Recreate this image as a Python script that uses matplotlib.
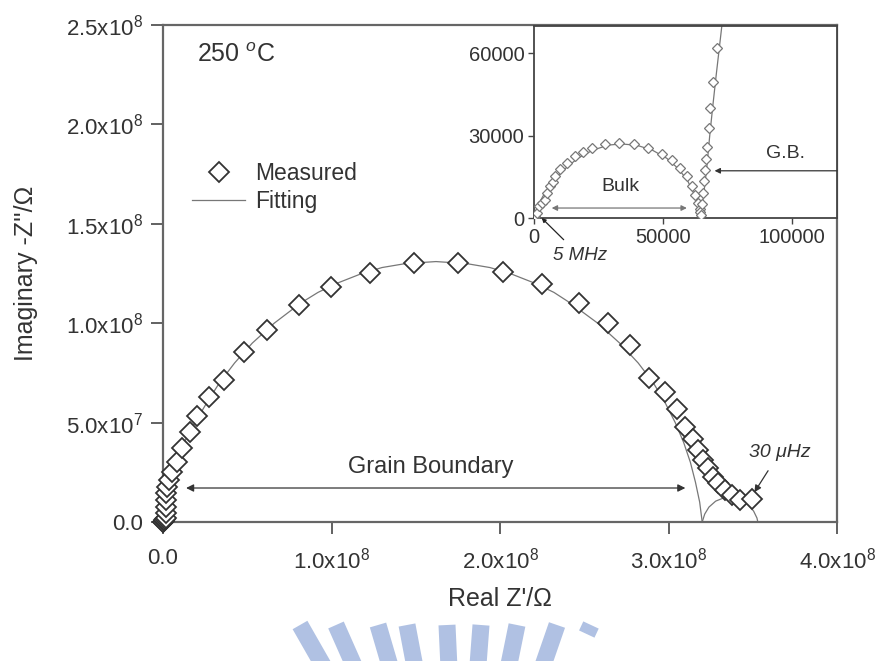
import numpy as np
import matplotlib
matplotlib.use("Agg")
import matplotlib.pyplot as plt
from matplotlib.patches import Polygon

plt.rcParams['font.family'] = ['Liberation Sans', 'DejaVu Sans']
plt.rcParams['mathtext.fontset'] = 'custom'
plt.rcParams['mathtext.rm'] = 'Liberation Sans'
plt.rcParams['mathtext.it'] = 'Liberation Sans:italic'

# ---- main plot data, units of 1e8 ohm ----
meas_re = [0.000, 0.001, 0.003, 0.006, 0.010, 0.016, 0.016, 0.016, 0.016, 0.020,
           0.026, 0.036, 0.052, 0.085, 0.115, 0.159, 0.204, 0.273, 0.363, 0.481,
           0.618, 0.808, 0.997, 1.229, 1.492, 1.749, 2.017, 2.251, 2.468, 2.640,
           2.770, 2.885, 2.978, 3.051, 3.097, 3.146, 3.176, 3.205, 3.235, 3.265,
           3.294, 3.334, 3.374, 3.424, 3.493]
meas_im = [0.000, 0.002, 0.004, 0.008, 0.013, 0.020, 0.045, 0.077, 0.111, 0.144,
           0.178, 0.211, 0.253, 0.302, 0.371, 0.454, 0.533, 0.630, 0.714, 0.855,
           0.966, 1.092, 1.181, 1.254, 1.304, 1.304, 1.259, 1.197, 1.103, 1.000,
           0.890, 0.725, 0.655, 0.567, 0.479, 0.416, 0.362, 0.312, 0.270, 0.228,
           0.195, 0.161, 0.136, 0.111, 0.114]

fit_re = [0.000, 0.005, 0.012, 0.030, 0.070, 0.125, 0.190, 0.260, 0.335, 0.425,
          0.530, 0.660, 0.815, 0.920, 1.030, 1.180, 1.300, 1.440, 1.620, 1.800,
          1.940, 2.060, 2.210, 2.320, 2.420, 2.580, 2.710, 2.820, 2.910, 2.980,
          3.040, 3.090, 3.130, 3.160, 3.185, 3.200]
fit_im = [0.000, 0.050, 0.100, 0.200, 0.300, 0.400, 0.500, 0.600, 0.700, 0.800,
          0.900, 1.000, 1.100, 1.155, 1.200, 1.250, 1.280, 1.300, 1.310, 1.300,
          1.280, 1.250, 1.200, 1.155, 1.100, 1.000, 0.900, 0.800, 0.700, 0.600,
          0.500, 0.400, 0.300, 0.200, 0.100, 0.000]

# electrode arc of the fit
fit2_re = [3.200, 3.215, 3.240, 3.280, 3.330, 3.380, 3.430, 3.470, 3.505, 3.525, 3.530]
fit2_im = [0.000, 0.040, 0.075, 0.105, 0.122, 0.126, 0.115, 0.090, 0.055, 0.020, 0.000]

main_xticks = [0, 1, 2, 3, 4]
main_xlabels = ['0.0', '1.0x10$^8$', '2.0x10$^8$', '3.0x10$^8$', '4.0x10$^8$']
main_yticks = [0, 0.5, 1.0, 1.5, 2.0, 2.5]
main_ylabels = ['0.0', '5.0x10$^7$', '1.0x10$^8$', '1.5x10$^8$', '2.0x10$^8$', '2.5x10$^8$']

# ---- inset data, ohm ----
ins_re = [0, 500, 1036, 2073, 3000, 4275, 5200, 6218, 7200, 8161,
          10104, 12694, 15933, 19000, 22409, 27591, 33161, 38990, 44430, 49611,
          53497, 56736, 59326, 61269, 62565, 63601, 64249, 64508, 64700,
          65155, 65544, 66062, 66451, 66839, 67098, 67746, 68394, 69430, 70984]
ins_im = [0, 900, 1818, 4242, 5500, 6667, 9200, 11515, 13300, 15152,
          17818, 20000, 22424, 24000, 25455, 27030, 27273, 27030, 25455, 23394,
          21212, 18182, 15152, 11515, 8485, 5455, 3273, 2061, 1000,
          5212, 9091, 13333, 17576, 21455, 26061, 32727, 40000, 49697, 61818]

ins_fit_re = [0, 1200, 3500, 7000, 11500, 17000, 23000, 29000, 34000, 40000,
              46000, 51500, 56000, 59500, 62000, 63600, 64300, 64700,
              65800, 67100, 68200, 69300, 70700, 71900, 72900, 73300]
ins_fit_im = [0, 4000, 8000, 12500, 17500, 21800, 24800, 26600, 27000, 26500,
              24700, 21800, 18000, 13800, 9000, 4500, 1000, 0,
              8000, 18800, 30000, 40000, 52000, 61800, 70000, 73000]

ins_xticks = [0, 50000, 100000]
ins_yticks = [0, 30000, 60000]

tc = '#333333'
W, H = 882, 661
fig = plt.figure(figsize=(8.82, 6.61), dpi=100)

# faint watermark at the bottom (decoration)
bg = fig.add_axes([0, 0, 1, 1], zorder=-5)
bg.set_xlim(0, W)
bg.set_ylim(H, 0)
bg.axis('off')
wm_x = [300, 336, 378, 407, 447, 481, 517, 557, 591]
for i, xt in enumerate(wm_x):
    ang = np.arctan2(460 - xt, 280)
    dx, dy = np.sin(ang), np.cos(ang)
    px, py = np.cos(ang), -np.sin(ang)
    top = 625
    L = 70 if i < len(wm_x) - 1 else 10
    w = 17
    pts = [(xt - px * w / 2, top - py * w / 2), (xt + px * w / 2, top + py * w / 2),
           (xt + px * w / 2 + dx * L, top + py * w / 2 + dy * L),
           (xt - px * w / 2 + dx * L, top - py * w / 2 + dy * L)]
    bg.add_patch(Polygon(pts, closed=True, color='#9cb2dc', alpha=0.8, lw=0))

ax = fig.add_axes([163 / W, 1 - 522 / H, (837 - 163) / W, (522 - 25) / H])
ax.plot(fit_re, fit_im, '-', color='#777777', lw=0.9, label='Fitting', zorder=2)
ax.plot(fit2_re, fit2_im, '-', color='#777777', lw=0.9, zorder=2)
ax.plot(meas_re, meas_im, 'D', ms=10, mfc='white', mec='#333333', mew=1.3,
        label='Measured', zorder=3, clip_on=False)

ax.set_xlim(0, 4)
ax.set_ylim(0, 2.5)
ax.set_xticks(main_xticks)
ax.set_xticklabels(main_xlabels)
ax.set_yticks(main_yticks)
ax.set_yticklabels(main_ylabels)
ax.tick_params(axis='both', direction='out', length=8.5, width=1.3, colors='#555555',
               labelcolor=tc, labelsize=16, pad=6)
ax.tick_params(axis='x', pad=10)
for s in ax.spines.values():
    s.set_color('#666666')
    s.set_linewidth(1.6)
ax.set_xlabel("Real Z'/\u03a9", fontsize=18, color=tc, labelpad=10)
ax.set_ylabel("Imaginary -Z''/\u03a9", fontsize=18, color=tc, labelpad=20)

handles, labels = ax.get_legend_handles_labels()
leg = ax.legend(handles[::-1], labels[::-1], loc='upper left', bbox_to_anchor=(0.03, 0.742),
                frameon=False, fontsize=16.5, handlelength=2.3, handletextpad=0.45,
                labelspacing=0.2, borderaxespad=0)
for t in leg.get_texts():
    t.set_color(tc)

ax.text(0.05, 0.94, '250 $^o$C', transform=ax.transAxes, fontsize=18, color=tc,
        va='center', ha='left')

ax.annotate('', xy=(0.137, 0.171), xytext=(3.10, 0.171),
            arrowprops=dict(arrowstyle='<|-|>', color='#333333', lw=0.9,
                            mutation_scale=11, shrinkA=0, shrinkB=0))
ax.text(1.587, 0.275, 'Grain Boundary', fontsize=17, color=tc, ha='center', va='center')
ax.annotate('30 \u03bcHz', xy=(3.51, 0.15), xytext=(3.66, 0.35), fontsize=14,
            style='italic', color=tc, ha='center', va='center',
            arrowprops=dict(arrowstyle='-|>', color='#333333', lw=0.9,
                            mutation_scale=10, shrinkA=6, shrinkB=0))

# ---- inset ----
ins = fig.add_axes([534 / W, 1 - 218 / H, (837 - 534) / W, (218 - 26) / H])
ins.plot(ins_fit_re, ins_fit_im, '-', color='#777777', lw=0.9, zorder=2)
ins.plot(ins_re, ins_im, 'D', ms=5.5, mfc='white', mec='#777777', mew=0.9, zorder=3)
ins.set_xlim(0, 117600)
ins.set_ylim(0, 70000)
ins.set_xticks(ins_xticks)
ins.set_xticklabels([str(v) for v in ins_xticks])
ins.set_yticks(ins_yticks)
ins.set_yticklabels([str(v) for v in ins_yticks])
ins.tick_params(axis='both', direction='out', length=4, width=1.0, colors='#444444',
                labelcolor=tc, labelsize=14.5, pad=3)
for s in ins.spines.values():
    s.set_color('#444444')
    s.set_linewidth(1.3)

ins.annotate('', xy=(6865, 3636), xytext=(59326, 3636),
             arrowprops=dict(arrowstyle='<|-|>', color='#777777', lw=0.9,
                             mutation_scale=8, shrinkA=0, shrinkB=0))
ins.text(33420, 11515, 'Bulk', fontsize=14, color=tc, ha='center', va='center')
ins.text(97540, 23636, 'G.B.', fontsize=14, color=tc, ha='center', va='center')
ins.annotate('', xy=(70078, 17212), xytext=(117600, 17212),
             arrowprops=dict(arrowstyle='-|>', color='#333333', lw=0.9,
                             mutation_scale=8, shrinkA=0, shrinkB=0))
ins.annotate('5 MHz', xy=(2979, 0), xytext=(17876, -13800), fontsize=13.5,
             style='italic', color=tc, ha='center', va='center', annotation_clip=False,
             arrowprops=dict(arrowstyle='-|>', color='#222222', lw=0.9,
                             mutation_scale=6, shrinkA=5, shrinkB=0))

fig.savefig('out.png', dpi=100)
